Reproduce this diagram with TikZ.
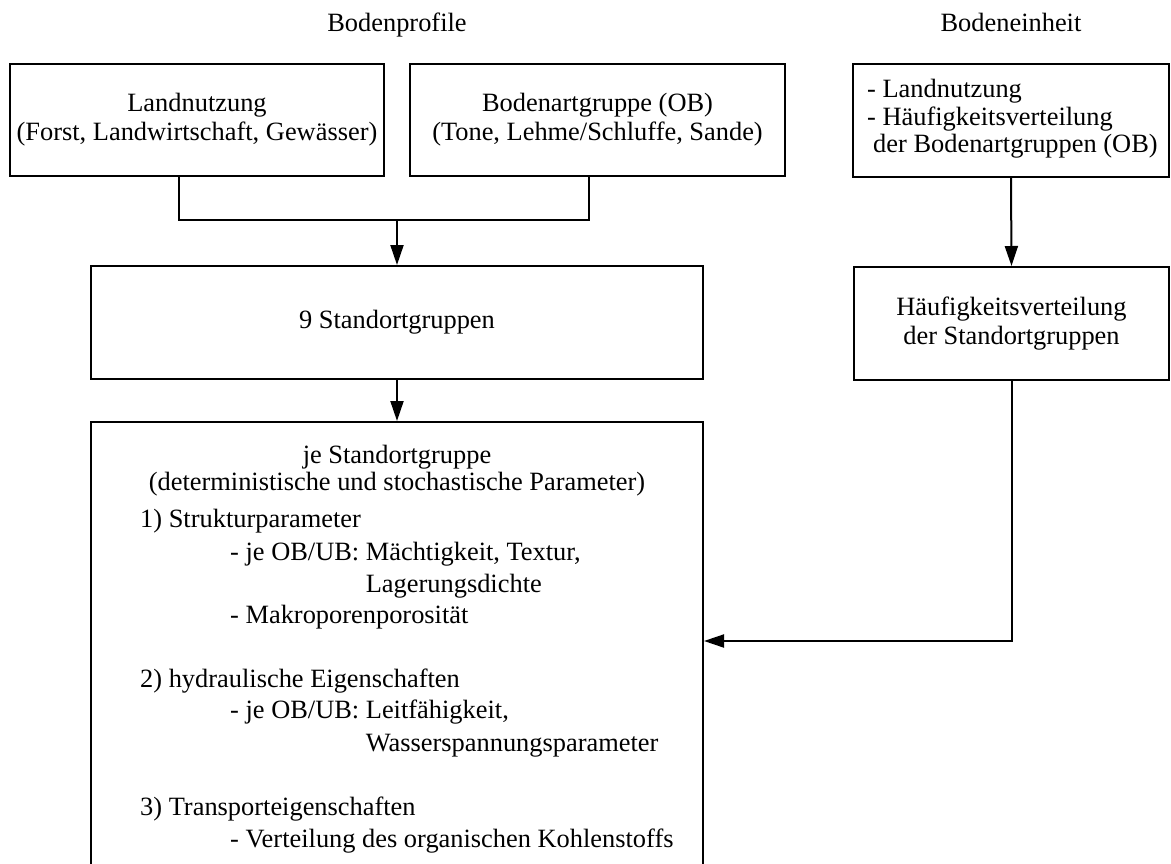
\documentclass[tikz,border=0pt]{standalone}
\usepackage{fontspec}
\setmainfont{Liberation Serif}
\usetikzlibrary{arrows.meta}
\newcommand\diagfont{\fontsize{26.4}{29}\selectfont}
\begin{document}
\begin{tikzpicture}[x=1pt, y=-1pt,
  box/.style={draw, line width=2pt, rectangle, inner sep=0pt, align=center, font=\diagfont},
  txt/.style={inner sep=0pt, font=\diagfont},
  link/.style={line width=2pt},
  arr/.style={line width=2pt, -{Triangle[length=20pt,width=13pt]}}]
\useasboundingbox (0,0) rectangle (1171,863);

% column titles
\node[txt, anchor=base] (t1) at (397,31) {Bodenprofile};
\node[txt, anchor=base] (t2) at (1011,31) {Bodeneinheit};

% input boxes
\node[box, minimum width=374pt, minimum height=112pt] (A) at (197,120)
  {Landnutzung\\(Forst, Landwirtschaft, Gewässer)};
\node[box, minimum width=375pt, minimum height=112pt] (B) at (597.5,120)
  {Bodenartgruppe (OB)\\(Tone, Lehme/Schluffe, Sande)};
\node[box, minimum width=316pt, minimum height=113pt] (C) at (1011,120.5) {};
\node[txt, anchor=base west] (c1) at (867,97) {- Landnutzung};
\node[txt, anchor=base west] (c2) at (867,125) {- Häufigkeitsverteilung};
\node[txt, anchor=base west] (c3) at (873,152) {der Bodenartgruppen (OB)};

% site groups
\node[box, minimum width=612pt, minimum height=113pt] (D) at (397,322.5) {9 Standortgruppen};
\node[box, minimum width=315pt, minimum height=113pt] (E) at (1011.5,323.5)
  {Häufigkeitsverteilung\\der Standortgruppen};

% parameter box (continues below the lower edge)
\node[box, minimum width=612pt, minimum height=478pt] (F) at (397,661) {};
\node[txt, anchor=base] (h1) at (397,463) {je Standortgruppe};
\node[txt, anchor=base] (h2) at (397,490) {(deterministische und stochastische Parameter)};
\node[txt, anchor=base west] (i1) at (140,527) {1) Strukturparameter};
\node[txt, anchor=base west] (i2) at (230,560) {- je OB/UB: Mächtigkeit, Textur,};
\node[txt, anchor=base west] (i3) at (230,592) {\hphantom{- je OB/UB: }Lagerungsdichte};
\node[txt, anchor=base west] (i4) at (230,623) {- Makroporenporosität};
\node[txt, anchor=base west] (i5) at (140,687) {2) hydraulische Eigenschaften};
\node[txt, anchor=base west] (i6) at (230,718) {- je OB/UB: Leitfähigkeit,};
\node[txt, anchor=base west] (i7) at (230,751) {\hphantom{- je OB/UB: }Wasserspannungsparameter};
\node[txt, anchor=base west] (i8) at (140,815) {3) Transporteigenschaften};
\node[txt, anchor=base west] (i9) at (230,847) {- Verteilung des organischen Kohlenstoffs};

% connectors
\coordinate (jl) at (179,220);
\coordinate (jr) at (589,220);
\coordinate (jm) at (397,220);
\coordinate (fy) at (0,641);
\draw[link] (A.south -| jl) -- (jl) -- (jr) -- (B.south -| jr);
\draw[arr] (jm) -- (D.north);
\draw[arr] (D.south) -- (F.north);
\draw[arr] (C.south) -- (E.north);
\draw[arr] (E.south) |- (F.east |- fy);
\end{tikzpicture}
\end{document}
